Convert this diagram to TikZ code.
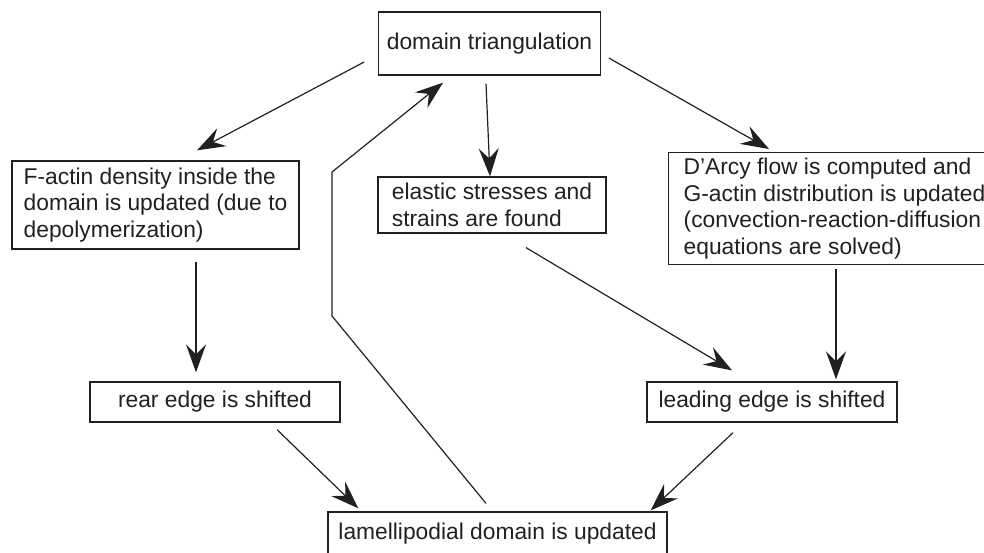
\documentclass[tikz,border=0pt]{standalone}
\usepackage{fontspec}
\setmainfont{Liberation Sans}
\usetikzlibrary{arrows.meta,calc}
\definecolor{ink}{HTML}{231F20}
\begin{document}
\begin{tikzpicture}[x=1pt,y=1pt, color=ink,
    font=\fontsize{22.8}{26.5}\selectfont,
    box/.style={draw, line width=1.3pt, align=left, inner xsep=8pt, inner ysep=4pt},
    arr/.style={line width=1.2pt, -{Stealth[length=28pt,width=20pt,inset=10pt]}}]
  \useasboundingbox (0,0) rectangle (984,552);
  \clip (0,0) rectangle (984,552);
  \draw
    (489.5,508.5) node[box, minimum width=217pt, minimum height=63pt] (top){domain triangulation}
    (155.5,347) node[box, minimum width=287pt, minimum height=88pt] (factin){F-actin density inside the\\domain is updated (due to\\depolymerization)}
    (492,347) node[box, minimum width=228pt, minimum height=56pt] (elastic){elastic stresses and\\strains are found}
    (668,400) node[box, anchor=north west, inner xsep=15pt, minimum height=112pt] (darcy){D’Arcy flow is computed and\\G-actin distribution is updated\\(convection-reaction-diffusion\\equations are solved)}
    (215,150) node[box, minimum width=250pt, minimum height=40pt] (rear){rear edge is shifted}
    (772,150) node[box, minimum width=250pt, minimum height=40pt] (leading){leading edge is shifted}
    (497.5,18) node[box, minimum width=339pt, minimum height=44pt] (lamel){lamellipodial domain is updated};
  \begin{scope}[arr]
    \draw ($(top.west)+(-14,-18.5)$) to ($(factin.north)+(41.5,10)$);
    \draw ($(top.south)+(-3.5,-8)$) to ($(elastic.north)+(-2,0)$);
    \draw ($(top.east)+(8,-14.5)$) to ($(darcy.north west)+(101,3)$);
    \draw ($(factin.south)+(40.5,-12)$) to ($(rear.north)+(-19,9)$);
    \draw ($(darcy.south west)+(168,-4)$) to ($(leading.north)+(64,2)$);
    \draw ($(elastic.south)+(34,-14)$) to ($(leading.north)+(-40,11)$);
    \draw ($(rear.south)+(62,-7)$) to ($(lamel.north west)+(31,3)$);
    \draw ($(leading.south)+(-39,-10)$) to ($(lamel.north east)+(-17,1)$);
    \draw ($(lamel.north)+(-11.5,8)$) -- (332,236) -- (332,380) -- ($(top.south)+(-46.5,-7)$);
  \end{scope}
\end{tikzpicture}
\end{document}
